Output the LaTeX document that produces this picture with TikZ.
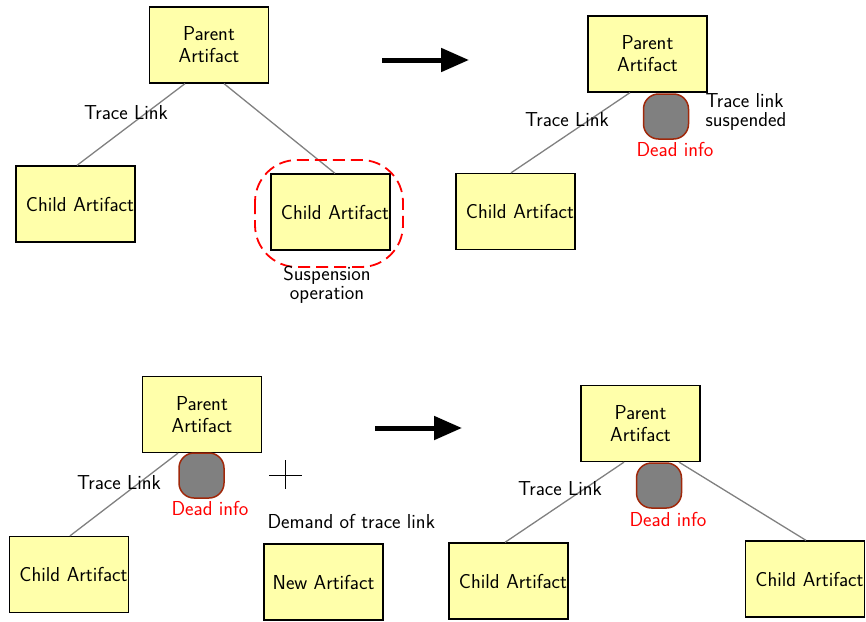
\documentclass[tikz,border=0pt]{standalone}
\usetikzlibrary{arrows.meta,calc}
\definecolor{boxyellow}{RGB}{255,255,170}
\definecolor{blobedge}{RGB}{160,40,10}
\definecolor{linkgray}{RGB}{128,128,128}
\begin{document}
\begin{tikzpicture}[x=1pt,y=-1pt,
  font=\sffamily\fontsize{20.2}{22}\selectfont,
  box/.style={draw=black, line width=1.3pt, fill=boxyellow, minimum width=119, minimum height=76, inner sep=0pt, align=center},
  childbox/.style={box, text width=117, inner xsep=1pt, align=right},
  blob/.style={draw=blobedge, fill=linkgray, line width=1.5pt, rounded corners=15pt, minimum size=45, inner sep=0pt},
  link/.style={draw=linkgray, line width=1.3pt},
  dead/.style={text=red},
  bigarrow/.style={line width=5pt, -{Triangle[length=28pt,width=23pt]}},
  tight/.style={align=left, font=\sffamily\fontsize{20.2}{18.5}\selectfont}]
\useasboundingbox (0,0) rectangle (866,621);

% ---------- top left ----------
\node[box] (p1) at (209,45) {Parent\\Artifact};
\node[childbox] (c1a) at (75.5,204) {Child Artifact};
\node[childbox] (c1b) at (330.5,212) {Child Artifact};
\draw[link] ($(p1.south)+(-24,0)$) -- ($(c1a.north)+(1.5,0)$);
\draw[link] ($(p1.south)+(15,0)$) -- ($(c1b.north)+(4.5,0)$);
\node (tl1) at (126,113) {Trace Link};
\draw[red, line width=1.8pt, dash pattern=on 12pt off 6pt, rounded corners=42pt] (255,160) rectangle (403,267);
\node[tight, align=center] (susp) at (327,285) {Suspension\\operation};

% arrow 1
\coordinate (a1s) at (382,60);
\coordinate (a1e) at (469,60);
\draw[bigarrow] (a1s) -- (a1e);

% ---------- top right ----------
\node[box] (p2) at (647.5,54) {Parent\\Artifact};
\node[childbox] (c2a) at (515.5,211.5) {Child Artifact};
\draw[link] ($(p2.south)+(-17.5,0)$) -- ($(c2a.north)+(-4.5,0)$);
\node (tl2) at (567,120) {Trace Link};
\node[blob] (b2) at (666,116.5) {};
\node[dead] (d2) at (675,149) {Dead info};
\node[tight, anchor=west] (sus2) at (702,112) {Trace link\\suspended};

% ---------- bottom left ----------
\node[box] (p3) at (202,414.5) {Parent\\Artifact};
\node[childbox] (c3a) at (69,574.5) {Child Artifact};
\draw[link] ($(p3.south)+(-24,0)$) -- ($(c3a.north)+(1,0)$);
\node (tl3) at (119,483) {Trace Link};
\node[blob] (b3) at (201.5,475.5) {};
\node[dead] (d3) at (210,508) {Dead info};
\draw[line width=1pt] (269,475) -- (302,475);
\draw[line width=1pt] (285,460) -- (285,489);
\node[anchor=west] (dem) at (264,521) {Demand of trace link};
\node[box] (n3) at (323.5,582) {New Artifact};

% arrow 2
\coordinate (a2s) at (375,428);
\coordinate (a2e) at (462,428);
\draw[bigarrow] (a2s) -- (a2e);

% ---------- bottom right ----------
\node[box] (p4) at (640.5,423.5) {Parent\\Artifact};
\node[childbox] (c4a) at (508.5,581) {Child Artifact};
\node[childbox] (c4b) at (805,579) {Child Artifact};
\draw[link] ($(p4.south)+(-16.5,0)$) -- ($(c4a.north)+(-3.5,0)$);
\draw[link] ($(p4.south)+(38.5,0)$) -- ($(c4b.north)+(1,0)$);
\node (tl4) at (560,489) {Trace Link};
\node[blob] (b4) at (659,485.5) {};
\node[dead] (d4) at (668,519) {Dead info};
\end{tikzpicture}
\end{document}
